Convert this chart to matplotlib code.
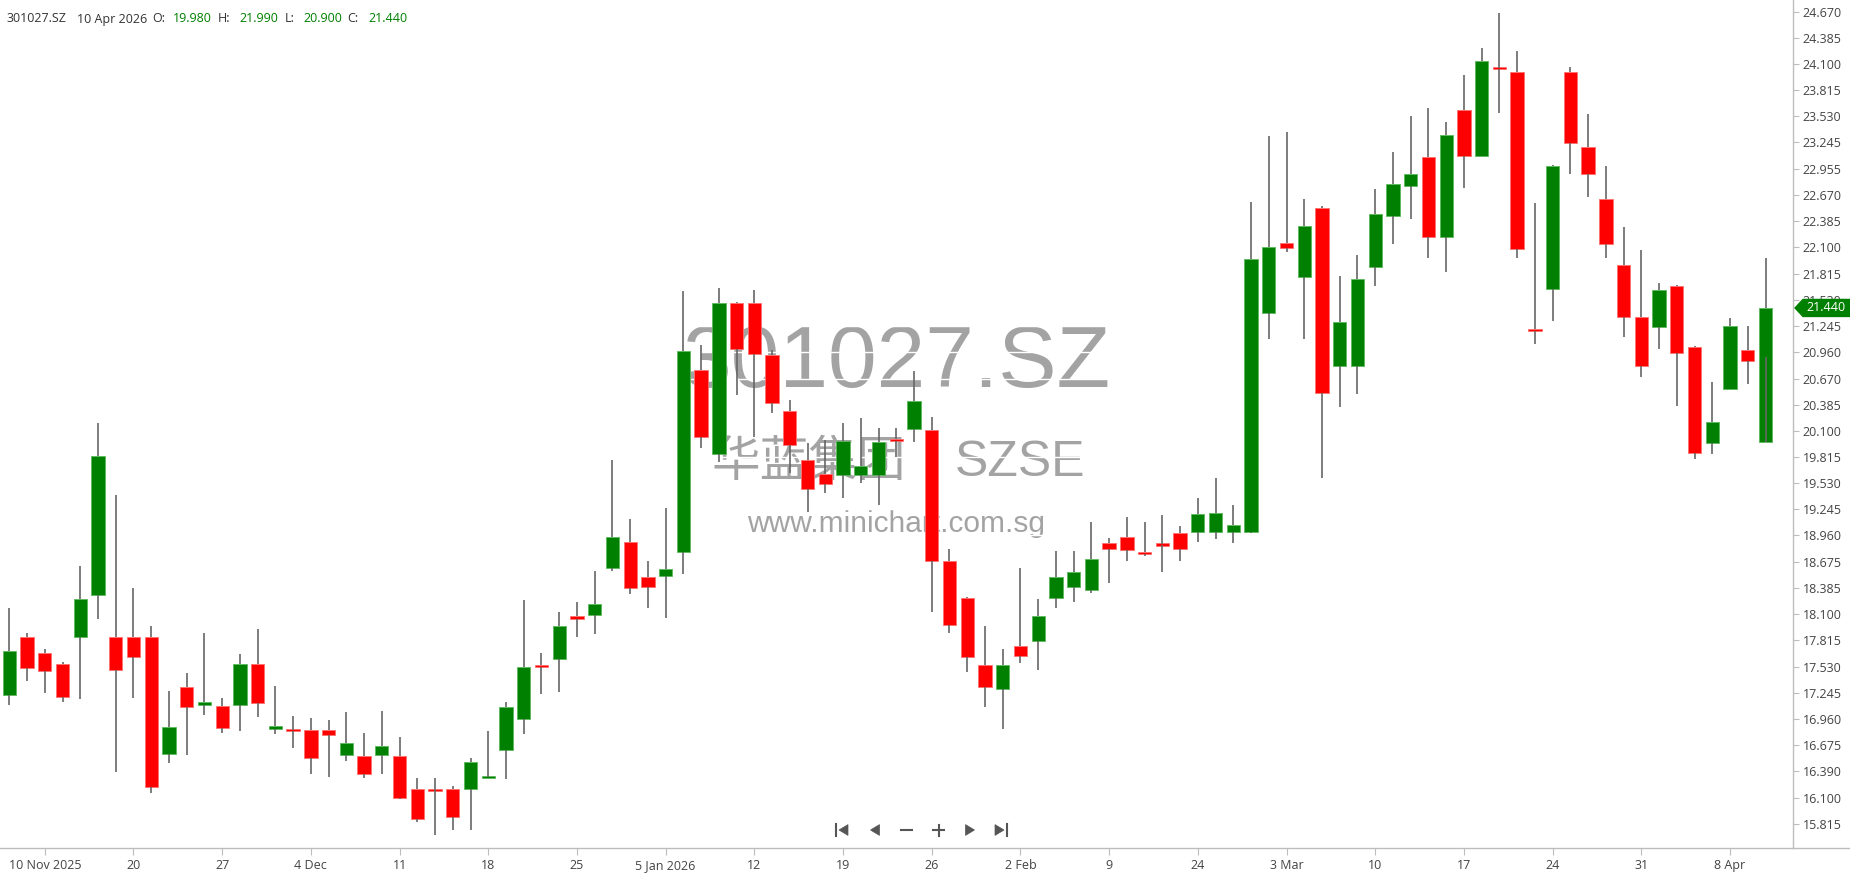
import matplotlib
matplotlib.use("Agg")
import matplotlib.pyplot as plt
from matplotlib.patches import Polygon
from matplotlib.lines import Line2D

# ---------------- data ----------------
opens = [17.217, 17.849, 17.675, 17.555, 17.853, 18.307, 17.849, 17.849, 17.849, 16.577,
         17.308, 17.108, 17.104, 17.108, 17.555, 16.846, 16.839, 16.842, 16.842, 16.563,
         16.559, 16.563, 16.559, 16.192, 16.185, 16.192, 16.196, 16.323, 16.617, 16.959,
         17.547, 17.613, 18.082, 18.089, 18.605, 18.885, 18.503, 18.514, 18.780, 20.767,
         19.848, 21.491, 21.491, 20.931, 20.317, 19.782, 19.633, 19.615, 19.615, 19.615,
         20.015, 20.117, 20.110, 18.681, 18.275, 17.551, 17.286, 17.755, 17.809, 18.274,
         18.402, 18.362, 18.881, 18.940, 18.780, 18.870, 18.990, 19.001, 19.001, 19.001,
         18.998, 21.382, 22.152, 21.778, 22.526, 20.811, 20.811, 21.890, 22.446, 22.773,
         23.082, 22.214, 23.602, 23.101, 24.060, 24.013, 21.215, 21.643, 24.009, 23.191,
         22.632, 21.909, 21.338, 21.236, 21.680, 21.011, 19.965, 20.557, 20.986, 19.980]
highs = [18.165, 17.893, 17.718, 17.577, 18.627, 20.182, 19.404, 18.383, 17.972, 17.268,
         17.457, 17.893, 17.184, 17.664, 17.936, 17.322, 16.995, 16.966, 16.951, 17.031,
         16.802, 17.050, 16.762, 16.312, 16.312, 16.232, 16.530, 16.831, 17.140, 18.256,
         17.675, 18.122, 18.231, 18.572, 19.786, 19.136, 18.681, 19.256, 21.625, 21.036,
         21.654, 21.500, 21.636, 20.982, 20.437, 19.964, 20.000, 20.189, 20.237, 20.128,
         20.128, 20.757, 20.248, 18.809, 18.293, 17.973, 17.719, 18.602, 18.267, 18.790,
         18.790, 19.103, 18.928, 19.158, 19.103, 19.183, 19.063, 19.365, 19.583, 19.292,
         22.592, 23.319, 23.355, 22.632, 22.552, 21.789, 22.017, 22.741, 23.137, 23.536,
         23.617, 23.464, 23.980, 24.278, 24.653, 24.242, 22.581, 22.999, 24.071, 23.558,
         22.988, 22.319, 22.076, 21.709, 21.691, 21.026, 20.629, 21.327, 21.244, 21.990]
lows = [17.108, 17.377, 17.239, 17.144, 17.173, 18.045, 16.385, 17.191, 16.155, 16.483,
        16.563, 16.999, 16.806, 16.832, 16.984, 16.792, 16.643, 16.355, 16.330, 16.504,
        16.315, 16.359, 16.083, 15.840, 15.694, 15.749, 15.749, 16.323, 16.301, 16.791,
        17.228, 17.257, 17.856, 17.882, 18.576, 18.318, 18.165, 18.056, 18.536, 19.910,
        19.757, 20.491, 20.037, 20.291, 19.637, 19.219, 19.419, 19.365, 19.528, 19.292,
        19.819, 19.975, 18.129, 17.893, 17.475, 17.094, 16.854, 17.566, 17.493, 18.169,
        18.234, 18.336, 18.445, 18.685, 18.740, 18.565, 18.685, 18.892, 18.918, 18.874,
        18.991, 21.098, 22.050, 21.098, 19.583, 20.364, 20.498, 21.683, 22.134, 22.410,
        21.981, 21.829, 22.745, 23.101, 23.562, 21.981, 21.044, 21.302, 22.897, 22.650,
        21.981, 21.127, 20.691, 20.989, 20.375, 19.790, 19.844, 20.557, 20.608, 20.900]
closes = [17.704, 17.515, 17.486, 17.202, 18.263, 19.826, 17.489, 17.638, 16.221, 16.868,
          17.093, 17.141, 16.861, 17.555, 17.130, 16.882, 16.830, 16.530, 16.780, 16.693,
          16.359, 16.664, 16.097, 15.869, 16.180, 15.894, 16.490, 16.326, 17.089, 17.522,
          17.529, 17.973, 18.045, 18.209, 18.939, 18.387, 18.401, 18.598, 20.971, 20.037,
          21.491, 20.989, 20.938, 20.404, 19.942, 19.463, 19.521, 19.986, 19.717, 19.975,
          19.993, 20.426, 18.685, 17.980, 17.639, 17.304, 17.551, 17.642, 18.082, 18.503,
          18.558, 18.707, 18.816, 18.801, 18.758, 18.852, 18.816, 19.197, 19.208, 19.078,
          21.978, 22.101, 22.090, 22.334, 20.509, 21.283, 21.759, 22.468, 22.795, 22.904,
          22.214, 23.326, 23.101, 24.129, 24.042, 22.080, 21.193, 22.988, 23.235, 22.897,
          22.134, 21.345, 20.811, 21.636, 20.946, 19.855, 20.193, 21.244, 20.866, 21.440]

date_labels = ["10 Nov 2025", "20", "27", "4 Dec", "11", "18", "25", "5 Jan 2026", "12", "19",
               "26", "2 Feb", "9", "24", "3 Mar", "10", "17", "24", "31", "8 Apr"]
date_tick_idx = [2, 7, 12, 17, 22, 27, 32, 37, 42, 47, 52, 57, 62, 67, 72, 77, 82, 87, 92, 97]

price_labels = ["24.670", "24.385", "24.100", "23.815", "23.530", "23.245", "22.955", "22.670",
                "22.385", "22.100", "21.815", "21.530", "21.245", "20.960", "20.670", "20.385",
                "20.100", "19.815", "19.530", "19.245", "18.960", "18.675", "18.385", "18.100",
                "17.815", "17.530", "17.245", "16.960", "16.675", "16.390", "16.100", "15.815"]

symbol = "301027.SZ"
name_cn = "华蓝集团"
exchange = "SZSE"
website = "www.minichart.com.sg"
header_date = "10 Apr 2026"
hdr_o, hdr_h, hdr_l, hdr_c = "19.980", "21.990", "20.900", "21.440"

# ---------------- figure ----------------
W, H = 1850, 874
fig = plt.figure(figsize=(W / 100, H / 100), dpi=100)
fig.patch.set_facecolor("white")

def fx(px):
    return px / W

def fy(py):
    return 1 - py / H

plot_right = 1793
plot_bottom = 848
ax = fig.add_axes([0, fy(plot_bottom), fx(plot_right), plot_bottom / H])
ax.set_facecolor("white")

GREEN = "#008000"
RED = "#ff0000"
WICK = "#666666"
n = len(opens)
xs = list(range(n))

# watermark
wm = "#a3a3a3"
ax.text(0.5, 1 - 365 / plot_bottom, symbol, transform=ax.transAxes, ha="center", va="center",
        fontsize=63, color=wm, family="Liberation Sans", zorder=0)
ax.text((809) / plot_right, 1 - 462 / plot_bottom, name_cn, transform=ax.transAxes, ha="center",
        va="center", fontsize=35, color=wm, family=["Noto Sans CJK SC", "DejaVu Sans"], zorder=0)
ax.text((1019.5) / plot_right, 1 - 463 / plot_bottom, exchange, transform=ax.transAxes, ha="center",
        va="center", fontsize=36, color=wm, family="Liberation Sans", zorder=0)
ax.text(896.5 / plot_right, 1 - 532 / plot_bottom, website, transform=ax.transAxes, ha="center",
        va="baseline", fontsize=21.5, color=wm, family="Liberation Sans", zorder=0)

# white grid lines (visible only over the watermark)
price_vals = [float(s) for s in price_labels]
for pv in price_vals:
    ax.axhline(pv, color="white", lw=1.0, zorder=1)

# candles
min_body = 0.022
bottoms, heights, colors, edges = [], [], [], []
for o, c in zip(opens, closes):
    lo, hi = min(o, c), max(o, c)
    h = max(hi - lo, min_body)
    bottoms.append(lo if hi - lo >= min_body else (lo + hi) / 2 - min_body / 2)
    heights.append(h)
    colors.append(GREEN if c >= o else RED)
    edges.append("#5cb85c" if c >= o else "#ff7070")
ax.bar(xs, heights, bottom=bottoms, width=0.75, color=colors, edgecolor=edges,
       linewidth=0.6, zorder=3)
body_top = [max(o, c) for o, c in zip(opens, closes)]
body_bot = [min(o, c) for o, c in zip(opens, closes)]
ax.vlines(xs, body_top, highs, color=WICK, lw=1.2, zorder=4)
ax.vlines(xs, lows, body_bot, color=WICK, lw=1.2, zorder=4)

ax.set_xlim(-0.524, 100.55)
ax.set_ylim(15.552, 24.7976)

# axes styling
for side in ["top", "left"]:
    ax.spines[side].set_visible(False)
ax.spines["right"].set_color("#bdbdbd")
ax.spines["bottom"].set_color("#bdbdbd")
ax.spines["right"].set_linewidth(1.0)
ax.spines["bottom"].set_linewidth(1.0)

ax.yaxis.tick_right()
ax.set_yticks(price_vals)
ax.set_yticklabels(price_labels)
ax.tick_params(axis="y", direction="out", length=4, width=0.8, color="#bdbdbd", pad=3,
               labelsize=9, labelcolor="#444444")
for lab in ax.get_yticklabels():
    lab.set_family("Open Sans")

ax.set_xticks(date_tick_idx)
ax.set_xticklabels(date_labels)
ax.tick_params(axis="x", direction="out", length=5, width=0.8, color="#bdbdbd", pad=3,
               labelsize=9, labelcolor="#444444")
for lab in ax.get_xticklabels():
    lab.set_family("Open Sans")

# extend bottom line to figure edge
fig.add_artist(Line2D([fx(plot_right), 1], [fy(plot_bottom), fy(plot_bottom)],
                      transform=fig.transFigure, color="#bdbdbd", lw=1.0))

# header
hy = fy(22.5)
hdr_items = [(6.7, symbol, "#333333"), (77, header_date, "#333333"),
             (152, "O:", "#333333"), (173, hdr_o, GREEN),
             (218, "H:", "#333333"), (239, hdr_h, GREEN),
             (285, "L:", "#333333"), (303, hdr_l, GREEN),
             (347, "C:", "#333333"), (368, hdr_c, GREEN)]
for px, txt, col in hdr_items:
    fig.text(fx(px), hy, txt, ha="left", va="baseline", fontsize=9, color=col, family="Open Sans")

# last price tag
ty = 11.7 + (24.670 - closes[-1]) * 91.72
tag = Polygon([[fx(1795), fy(ty)], [fx(1803), fy(ty - 8.5)], [fx(1850), fy(ty - 8.5)],
               [fx(1850), fy(ty + 8.5)], [fx(1803), fy(ty + 8.5)]],
              closed=True, transform=fig.transFigure, facecolor=GREEN, edgecolor=GREEN, zorder=10)
fig.add_artist(tag)
fig.text(fx(1826), fy(ty), f"{closes[-1]:.3f}", ha="center", va="center", fontsize=9,
         color="white", family="Open Sans", zorder=11)

# navigation icons
NAV = "#555555"
ny = 830
def tri(cx, direction, size=9):
    if direction == "left":
        pts = [[cx - size * 0.5, ny], [cx + size * 0.5, ny - size * 0.6], [cx + size * 0.5, ny + size * 0.6]]
    else:
        pts = [[cx + size * 0.5, ny], [cx - size * 0.5, ny - size * 0.6], [cx - size * 0.5, ny + size * 0.6]]
    fig.add_artist(Polygon([[fx(a), fy(b)] for a, b in pts], closed=True, transform=fig.transFigure,
                           facecolor=NAV, edgecolor=NAV, lw=0.5))

def seg(x0, y0, x1, y1):
    fig.add_artist(Line2D([fx(x0), fx(x1)], [fy(y0), fy(y1)], transform=fig.transFigure,
                          color=NAV, lw=1.5))

seg(836, ny - 6, 836, ny + 6); tri(843.5, "left")
tri(875, "left")
seg(901, ny, 912, ny)
seg(933, ny, 944, ny); seg(938.5, ny - 5.5, 938.5, ny + 5.5)
tri(970, "right")
tri(999.5, "right"); seg(1007, ny - 6, 1007, ny + 6)

fig.savefig("out.png", dpi=100, facecolor="white")
